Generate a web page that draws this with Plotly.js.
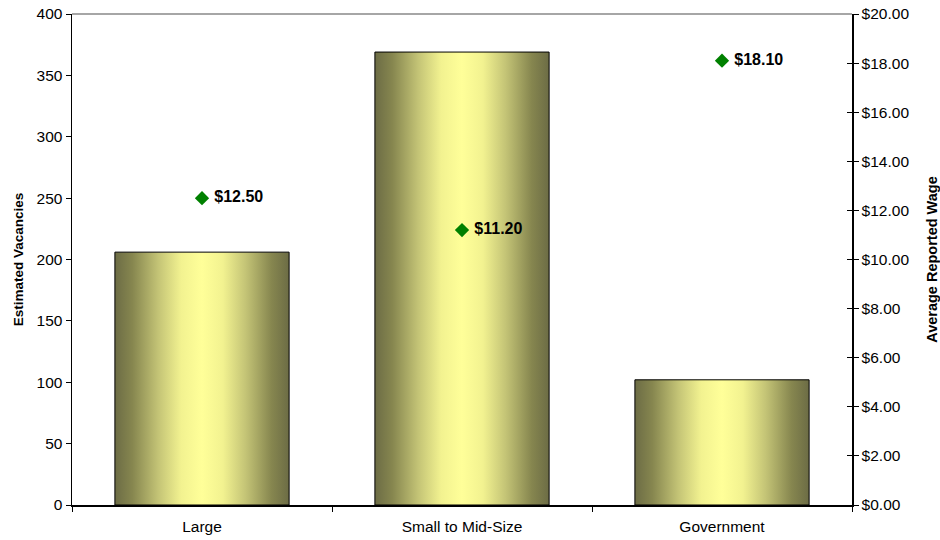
<!DOCTYPE html>
<html>
<head>
<meta charset="utf-8">
<script src="https://cdn.plot.ly/plotly-3.0.1.min.js"></script>
<style>
  html, body { margin: 0; padding: 0; background: #fff; }
  #chart { width: 940px; height: 540px; }
</style>
</head>
<body>
<div id="chart"></div>
<script>
// Employer categories
const categories = ["Large", "Small to Mid-Size", "Government"];
// Estimated vacancies per category (left axis)
const vacancies = [206, 369, 102];
// Average reported hourly wage per category (right axis)
const wages = [12.50, 11.20, 18.10];
// Right-axis tick values and labels
const wageTicks = [0, 2, 4, 6, 8, 10, 12, 14, 16, 18, 20];
const wageTickText = wageTicks.map(v => "$" + v.toFixed(2));

const FONT = "Liberation Sans, Arial, sans-serif";

const bars = {
  type: "bar",
  x: categories,
  y: vacancies,
  width: 0.67,
  marker: { color: "#c8c878", line: { color: "#000", width: 1 } },
  hoverinfo: "skip",
  showlegend: false
};

const wagePoints = {
  type: "scatter",
  mode: "markers+text",
  x: categories,
  y: wages,
  yaxis: "y2",
  marker: { symbol: "diamond", size: 11, color: "#008000" },
  texttemplate: " $%{y:.2f}",
  textposition: "middle right",
  textfont: { family: FONT, size: 16, color: "#000", weight: "bold" },
  cliponaxis: false,
  hoverinfo: "skip",
  showlegend: false
};

const tickFont = { family: FONT, size: 15.5, color: "#000" };

const layout = {
  width: 940,
  height: 540,
  margin: { l: 72, r: 88, t: 14, b: 35 },
  paper_bgcolor: "#fff",
  plot_bgcolor: "#fff",
  font: { family: FONT, size: 15, color: "#000" },
  bargap: 0.33,
  xaxis: {
    type: "category",
    showline: true, linecolor: "#000", linewidth: 1.5,
    ticks: "outside", tickson: "boundaries", ticklen: 5, tickcolor: "#000", tickwidth: 1,
    ticklabelstandoff: 7,
    showgrid: false, zeroline: false,
    tickfont: tickFont
  },
  yaxis: {
    range: [0, 400], dtick: 50,
    showline: true, linecolor: "#000", linewidth: 1.5,
    ticks: "outside", ticklen: 5, tickcolor: "#000", tickwidth: 1,
    showgrid: false, zeroline: false,
    tickfont: tickFont,
    title: { text: "<b>Estimated Vacancies</b>", font: { family: FONT, size: 13.5, color: "#000" }, standoff: 10 }
  },
  yaxis2: {
    overlaying: "y", side: "right",
    range: [0, 20],
    tickvals: wageTicks, ticktext: wageTickText,
    showline: true, linecolor: "#000", linewidth: 1.5,
    ticks: "outside", ticklen: 5, tickcolor: "#000", tickwidth: 1,
    showgrid: false, zeroline: false,
    tickfont: tickFont,
    title: { text: "<b>Average Reported Wage</b>", font: { family: FONT, size: 14.5, color: "#000" }, standoff: 18 }
  },
  // inner half of the crossing ticks on the wage axis
  yaxis3: {
    overlaying: "y", side: "right", anchor: "x",
    range: [0, 20], tickvals: wageTicks,
    showticklabels: false, showline: false,
    ticks: "inside", ticklen: 5, tickcolor: "#000", tickwidth: 1,
    showgrid: false, zeroline: false
  },
  shapes: [
    { type: "line", xref: "paper", yref: "paper", x0: 0, x1: 1, y0: 1, y1: 1,
      line: { color: "#888", width: 1.5 } }
  ]
};

const dummy = { type: "scatter", x: [categories[0]], y: [0], yaxis: "y3", mode: "none", hoverinfo: "skip", showlegend: false };

Plotly.newPlot("chart", [bars, wagePoints, dummy], layout, { staticPlot: true }).then(gd => {
  // horizontal cylinder-style shading on the bars
  const svg = gd.querySelector(".main-svg");
  const ns = "http://www.w3.org/2000/svg";
  let defs = svg.querySelector("defs");
  if (!defs) { defs = document.createElementNS(ns, "defs"); svg.insertBefore(defs, svg.firstChild); }
  const grad = document.createElementNS(ns, "linearGradient");
  grad.setAttribute("id", "barShade");
  grad.setAttribute("x1", "0"); grad.setAttribute("y1", "0");
  grad.setAttribute("x2", "1"); grad.setAttribute("y2", "0");
  const stops = [
    [0, "#6c6c45"], [0.1, "#86864f"], [0.25, "#c4c476"], [0.38, "#f2f290"],
    [0.5, "#ffff99"], [0.62, "#f2f290"], [0.75, "#c4c476"], [0.9, "#86864f"], [1, "#6c6c45"]
  ];
  stops.forEach(([o, c]) => {
    const s = document.createElementNS(ns, "stop");
    s.setAttribute("offset", o);
    s.setAttribute("stop-color", c);
    grad.appendChild(s);
  });
  defs.appendChild(grad);
  gd.querySelectorAll(".bars .point path").forEach(p => { p.style.fill = "url(#barShade)"; });
});
</script>
</body>
</html>
